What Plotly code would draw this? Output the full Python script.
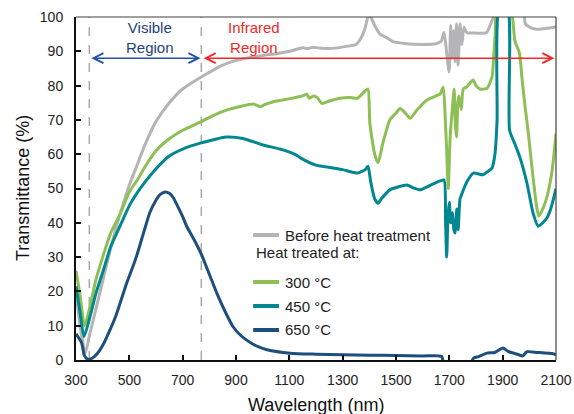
import plotly.graph_objects as go

# ---------------- data ----------------
wl_before = [300, 315, 335, 350, 375, 400, 425, 450, 475, 500, 530, 560, 600, 650, 700, 770, 850, 925,
             1000, 1050, 1100, 1150, 1170, 1190, 1210, 1240, 1280, 1320, 1350, 1370, 1385, 1395, 1405,
             1420, 1440, 1465, 1490, 1530, 1600, 1650, 1670, 1680, 1690, 1699, 1705, 1710, 1717, 1722,
             1727, 1733, 1740, 1747, 1755, 1765, 1800, 1840, 1855, 1865, 1872, 1975, 1985, 2003, 2028,
             2066, 2100]
t_before = [20, 10, 2, 7, 15, 23, 31, 38.5, 45, 51, 57, 63, 69.5, 75, 79, 82.5, 86, 87.8,
            88.8, 89.3, 90, 91, 90.8, 91.2, 91, 90.8, 91, 91.5, 92, 94, 97, 100, 100,
            97.5, 95, 94, 92.8, 92.3, 92, 92.2, 93, 95.5, 89.5, 84, 97.5, 88, 96, 87,
            98, 86, 98, 92, 97, 95.5, 95.3, 95.5, 98, 100, 103, 103, 98, 97, 96.4,
            96.7, 97.2]

wl_300 = [300, 315, 332, 352, 375, 400, 430, 465, 500, 530, 560, 600, 650, 700, 770, 820, 870, 920,
          965, 980, 990, 1010, 1050, 1090, 1120, 1150, 1165, 1175, 1190, 1205, 1222, 1250, 1290, 1330,
          1355, 1385, 1395, 1402, 1420, 1433, 1450, 1477, 1500, 1515, 1535, 1553, 1580, 1616, 1650,
          1665, 1677, 1685, 1690, 1696, 1703, 1710, 1718, 1723, 1727, 1732, 1736, 1745, 1752, 1765,
          1789, 1800, 1815, 1841, 1860, 1866, 1872, 1880, 1928, 1946, 1963, 1972, 1984, 1995, 2010,
          2029, 2036, 2050, 2066, 2085, 2100]
t_300 = [26, 19, 10, 15.5, 23.5, 30, 37, 42.5, 49, 52.5, 56.5, 61, 64.5, 67, 69.5, 71.5, 73, 74,
         74.6, 74.2, 73.8, 74.5, 75.5, 76, 76.5, 77, 77.5, 76.3, 77, 76.5, 74.8, 75.5, 76.3, 76.5,
         76.3, 78.5, 79, 69, 60, 57.5, 63, 70, 72, 73.3, 72, 70.5, 73, 75.8, 77,
         77.5, 79.5, 70, 61, 50, 65, 72, 79, 68, 65, 75, 77, 73, 79, 79.6,
         81.6, 80, 79, 79.2, 82.5, 88, 95, 103, 103, 93, 89.5, 82.5, 73.8, 67, 56,
         44, 42, 44, 47.5, 55, 66]

wl_450 = [300, 315, 330, 352, 375, 402, 430, 465, 500, 528, 560, 603, 650, 700, 769, 820, 862, 926,
          1001, 1065, 1125, 1140, 1200, 1264, 1300, 1354, 1385, 1395, 1405, 1420, 1433, 1445, 1477,
          1510, 1541, 1565, 1590, 1630, 1665, 1680, 1686, 1690, 1695, 1700, 1705, 1712, 1717, 1722,
          1728, 1733, 1740, 1745, 1752, 1766, 1790, 1826, 1845, 1860, 1871, 1879, 1888, 1918, 1926,
          1946, 1965, 1991, 2014, 2033, 2050, 2066, 2080, 2100]
t_450 = [21.5, 14, 6.8, 12.5, 19.5, 26, 33, 39, 45, 48.6, 52, 56, 59.5, 61.5, 63.3, 64.3, 65, 64.6,
         62.7, 61.5, 59.8, 59, 56.8, 56, 55.5, 54.5, 55.5, 56.5, 52, 47, 45.7, 47, 49.6,
         50.5, 51, 50.2, 49.6, 51, 52.2, 52.5, 40, 30, 42, 46, 40, 43, 38, 37,
         44, 38, 47, 48, 49.5, 52, 54.5, 54, 55, 56, 60, 70, 103, 103, 67,
         63, 59, 51.6, 42.8, 39, 40, 41.4, 44, 50]

wl_650 = [300, 321, 332, 345, 360, 377, 402, 427, 450, 465, 490, 510, 528, 555, 577, 600, 615, 634,
          650, 665, 680, 700, 715, 740, 769, 800, 828, 860, 889, 920, 952, 985, 1016, 1103, 1200,
          1300, 1400, 1500, 1600, 1660, 1672, 1680, 1780, 1790, 1810, 1841, 1870, 1901, 1920, 1958,
          1975, 1991, 2030, 2089, 2100]
t_650 = [7.6, 5, 1.2, 0.2, 0.5, 1.6, 4.5, 8.7, 13, 16.5, 22.4, 26.5, 30.5, 37.5, 43, 46.6, 48.2, 49,
         48.6, 47.3, 45, 41.8, 39, 35.5, 31, 25, 19.5, 14, 9.7, 7, 5.2, 3.8, 3, 2, 1.7,
         1.5, 1.4, 1.3, 1.2, 1.2, 1, -1, -1, 0.5, 1, 2, 2.2, 3.5, 2.5, 1.6,
         1.2, 2.4, 2.2, 1.8, 1.5]

series_names = ["Before heat treatment", "300 °C", "450 °C", "650 °C"]
series_colors = ["#B4B4B6", "#8DBF55", "#00878F", "#1D4E7C"]
x_ticks = [300, 500, 700, 900, 1100, 1300, 1500, 1700, 1900, 2100]
y_ticks = [0, 10, 20, 30, 40, 50, 60, 70, 80, 90, 100]
visible_bounds = [350, 770]
ir_end = 2100
arrow_level = 88

FONT = "Liberation Sans, Arial, sans-serif"

fig = go.Figure()
for wl, t, name, col in zip([wl_before, wl_300, wl_450, wl_650],
                            [t_before, t_300, t_450, t_650],
                            series_names, series_colors):
    fig.add_trace(go.Scatter(x=wl, y=t, mode="lines", name=name,
                             line=dict(color=col, width=3, shape="spline", smoothing=0.6),
                             showlegend=False))

# dashed boundaries of the visible region
for xv in visible_bounds:
    fig.add_shape(type="line", xref="x", yref="y", x0=xv, x1=xv, y0=0, y1=100,
                  line=dict(color="#A8A8A8", width=1.5, dash="dash"), layer="below")

# frame (top / right thin)
fig.add_shape(type="line", xref="paper", yref="paper", x0=0, x1=1, y0=1, y1=1,
              line=dict(color="#404040", width=1.2))
fig.add_shape(type="line", xref="paper", yref="paper", x0=1, x1=1, y0=0, y1=1,
              line=dict(color="#404040", width=1.2))

# region arrows
fig.add_annotation(x=visible_bounds[1] - 3, y=arrow_level, ax=visible_bounds[0] + 2, ay=arrow_level,
                   xref="x", yref="y", axref="x", ayref="y", text="", showarrow=True,
                   arrowhead=5, startarrowhead=5, arrowside="end+start", arrowsize=1.3,
                   startarrowsize=1.3, arrowwidth=1.5, arrowcolor="#2450A8")
fig.add_annotation(x=ir_end - 6, y=arrow_level, ax=visible_bounds[1] + 3, ay=arrow_level,
                   xref="x", yref="y", axref="x", ayref="y", text="", showarrow=True,
                   arrowhead=5, startarrowhead=5, arrowside="end+start", arrowsize=1.3,
                   startarrowsize=1.3, arrowwidth=1.5, arrowcolor="#F02828")
fig.add_annotation(x=578, y=94, xref="x", yref="y", text="Visible<br>Region", showarrow=False,
                   font=dict(family=FONT, size=15, color="#233F7E"), align="center")
fig.add_annotation(x=966, y=94, xref="x", yref="y", text="Infrared<br>Region", showarrow=False,
                   font=dict(family=FONT, size=15, color="#F02828"), align="center")

# manual legend
leg_x0, leg_x1, leg_tx = 0.369, 0.423, 0.431
rows = [(0.3644, 0), (0.2274, 1), (0.1574, 2), (0.0875, 3)]
for yy, idx in rows:
    fig.add_shape(type="line", xref="paper", yref="paper", x0=leg_x0, x1=leg_x1, y0=yy, y1=yy,
                  line=dict(color=series_colors[idx], width=4))
    fig.add_annotation(x=leg_tx, y=yy, xref="paper", yref="paper", text=series_names[idx],
                       showarrow=False, xanchor="left", yanchor="middle",
                       font=dict(family=FONT, size=15, color="#222222"))
fig.add_annotation(x=0.371, y=0.312, xref="paper", yref="paper", text="Heat treated at:",
                   showarrow=False, xanchor="left", yanchor="middle",
                   font=dict(family=FONT, size=15, color="#222222"))

# axis titles
fig.add_annotation(x=0.5, y=0, xref="paper", yref="paper", text="Wavelength (nm)",
                   showarrow=False, xanchor="center", yanchor="middle", yshift=-45,
                   font=dict(family=FONT, size=18, color="#111111"))
fig.add_annotation(x=0, y=0.5, xref="paper", yref="paper", text="Transmittance (%)",
                   showarrow=False, xanchor="center", yanchor="middle", xshift=-53.5,
                   textangle=-90, font=dict(family=FONT, size=18, color="#111111"))

fig.update_layout(
    width=574, height=414,
    margin=dict(l=76, r=18, t=17, b=54, autoexpand=False),
    paper_bgcolor="white", plot_bgcolor="white",
    font=dict(family=FONT, size=14, color="#222222"),
)
fig.update_xaxes(range=[300, 2100], tickvals=x_ticks, ticktext=[str(v) for v in x_ticks],
                 showgrid=False, zeroline=False, showline=True, linecolor="#111111", linewidth=2,
                 ticks="inside", ticklen=5, tickwidth=2, tickcolor="#111111", automargin=False,
                 tickfont=dict(family=FONT, size=14, color="#222222"), ticklabelstandoff=6)
fig.update_yaxes(range=[0, 100], tickvals=y_ticks, ticktext=[str(v) for v in y_ticks],
                 showgrid=False, zeroline=False, showline=True, linecolor="#111111", linewidth=2,
                 ticks="inside", ticklen=5, tickwidth=2, tickcolor="#111111", automargin=False,
                 tickfont=dict(family=FONT, size=14, color="#222222"), ticklabelstandoff=8)

fig.write_html("out.html")
